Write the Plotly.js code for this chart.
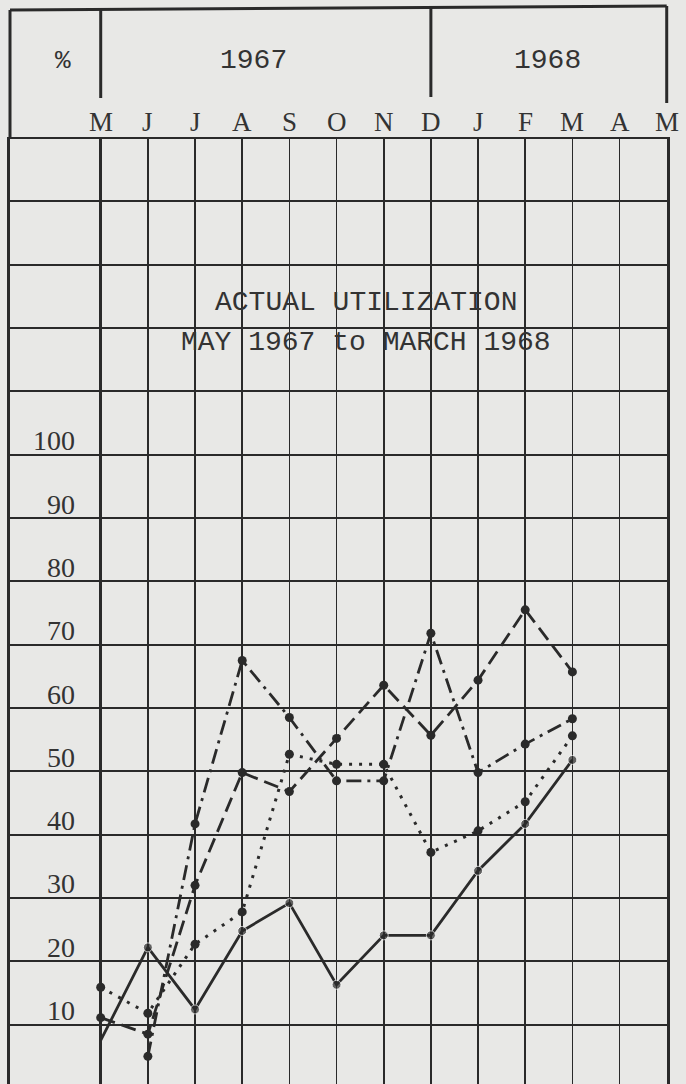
<!DOCTYPE html>
<html>
<head>
<meta charset="utf-8">
<script src="https://cdn.plot.ly/plotly-3.0.1.min.js"></script>
<style>
  html, body { margin: 0; padding: 0; background: #e8e8e6; }
  #chart { width: 686px; height: 1084px; }
</style>
</head>
<body>
<div id="chart"></div>
<script>
// ---- data ----
const monthLabels = ['M', 'J', 'J', 'A', 'S', 'O', 'N', 'D', 'J', 'F', 'M', 'A', 'M'];
const monthPos = [0, 1, 2, 3, 4, 5, 6, 7, 8, 9, 10, 11, 12];
// May 1967 ... March 1968
const dataMonths = [0, 1, 2, 3, 4, 5, 6, 7, 8, 9, 10];
const solidSeries   = [7.5, 22.2, 12.4, 24.8, 29.2, 16.3, 24.1, 24.1, 34.3, 41.7, 51.8];
const dottedSeries  = [15.9, 11.8, 22.7, 27.8, 52.7, 51.1, 51.1, 37.2, 40.6, 45.2, 55.6];
const dashedSeries  = [11.1, 8.5, 32.0, 49.8, 46.8, 55.2, 63.6, 55.7, 64.4, 75.5, 65.7];
const dashDotSeries = [null, 5.0, 41.7, 67.5, 58.5, 48.5, 48.5, 71.8, 49.8, 54.3, 58.3];
const yTickVals = [10, 20, 30, 40, 50, 60, 70, 80, 90, 100];
const yTickText = ['10', '20', '30', '40', '50', '60', '70', '80', '90', '100'];
const yearLabels = ['1967', '1968'];
const yearPos = [3.25, 9.48];
const yearDividers = [0, 7, 12];
const titleLines = ['ACTUAL UTILIZATION', 'MAY 1967 to MARCH 1968'];
const titleY = [124.0, 117.7];
const titleX = 5.63;
const unitLabel = '%';

// ---- layout geometry ----
const W = 686, H = 1084;
const M = { l: 10, r: 19, t: 137, b: 0 };
const xRange = [-1.923, 12.006];
const yRange = [0.63, 150.16];
const ink = '#2a2a2a';
const paperCol = '#e8e8e6';
const mono = 'Liberation Mono, DejaVu Sans Mono, monospace';
const serif = 'Liberation Serif, DejaVu Serif, serif';

const plotH = H - M.t - M.b;
function xPaper(x) { return (x - xRange[0]) / (xRange[1] - xRange[0]); }
function yPaperFromTop(py) { return (H - M.b - py) / plotH; } // header pixel rows above plot

function series(y, dash, width, sizes) {
  return {
    x: dataMonths, y: y, type: 'scatter', mode: 'lines+markers',
    line: { color: ink, width: width, dash: dash },
    marker: { color: ink, size: sizes || 9 },
    connectgaps: false, hoverinfo: 'skip'
  };
}

const traces = [
  series(dottedSeries, '3px,7px', 3),
  series(dashedSeries, '15px,7px', 2.8),
  series(dashDotSeries, '15px,6px,3px,6px', 2.8),
  series(solidSeries, 'solid', 2.8, [0, 9, 9, 9, 9, 9, 9, 9, 9, 9, 9])
];

// header frame
const shapes = [];
shapes.push({ type: 'line', xref: 'paper', yref: 'paper',
  x0: 0, x1: xPaper(12), y0: yPaperFromTop(10), y1: yPaperFromTop(6),
  line: { color: ink, width: 3 } });
shapes.push({ type: 'line', xref: 'paper', yref: 'paper',
  x0: 0, x1: 0, y0: yPaperFromTop(10), y1: 1,
  line: { color: ink, width: 3 } });
const dividerTops = [10, 8, 6];
const dividerBottoms = [98, 97, 103];
yearDividers.forEach((d, i) => {
  shapes.push({ type: 'line', xref: 'paper', yref: 'paper',
    x0: xPaper(d), x1: xPaper(d), y0: yPaperFromTop(dividerTops[i]), y1: yPaperFromTop(dividerBottoms[i]),
    line: { color: ink, width: 3 } });
});

const annotations = [];
// y tick labels, sitting just above their grid line
yTickVals.forEach((v, i) => {
  annotations.push({ x: -0.50, y: v, xref: 'x', yref: 'y', text: yTickText[i],
    xanchor: 'right', yanchor: 'middle', yshift: 14, showarrow: false,
    font: { family: serif, size: 28, color: '#333' } });
});
// year labels and unit
yearLabels.forEach((t, i) => {
  annotations.push({ x: xPaper(yearPos[i]), y: yPaperFromTop(60), xref: 'paper', yref: 'paper',
    text: t, xanchor: 'center', yanchor: 'middle', showarrow: false,
    font: { family: mono, size: 28, color: '#333' } });
});
annotations.push({ x: xPaper(-0.8), y: yPaperFromTop(61), xref: 'paper', yref: 'paper',
  text: unitLabel, xanchor: 'center', yanchor: 'middle', showarrow: false,
  font: { family: mono, size: 26, color: '#333' } });
// month labels
monthLabels.forEach((m, i) => {
  annotations.push({ x: xPaper(monthPos[i]), y: yPaperFromTop(122), xref: 'paper', yref: 'paper',
    text: m, xanchor: 'center', yanchor: 'middle', showarrow: false,
    font: { family: serif, size: 27, color: '#333' } });
});
// title
titleLines.forEach((t, i) => {
  annotations.push({ x: titleX, y: titleY[i], xref: 'x', yref: 'y', text: t,
    xanchor: 'center', yanchor: 'middle', showarrow: false,
    font: { family: mono, size: 28, color: '#333' } });
});

const layout = {
  width: W, height: H,
  margin: M,
  paper_bgcolor: paperCol, plot_bgcolor: paperCol,
  showlegend: false, hovermode: false,
  xaxis: {
    range: xRange, tickvals: monthPos, ticktext: monthLabels, showticklabels: false,
    showgrid: true, gridcolor: ink, gridwidth: 1.7,
    zeroline: true, zerolinecolor: ink, zerolinewidth: 3,
    showline: false, ticks: '', fixedrange: true
  },
  yaxis: {
    range: yRange, dtick: 10, tick0: 0, showticklabels: false,
    showgrid: true, gridcolor: ink, gridwidth: 1.8,
    zeroline: false,
    showline: true, mirror: true, linecolor: ink, linewidth: 3,
    ticks: '', fixedrange: true
  },
  shapes: shapes,
  annotations: annotations
};

Plotly.newPlot('chart', traces, layout, { staticPlot: true, displayModeBar: false });
</script>
</body>
</html>
